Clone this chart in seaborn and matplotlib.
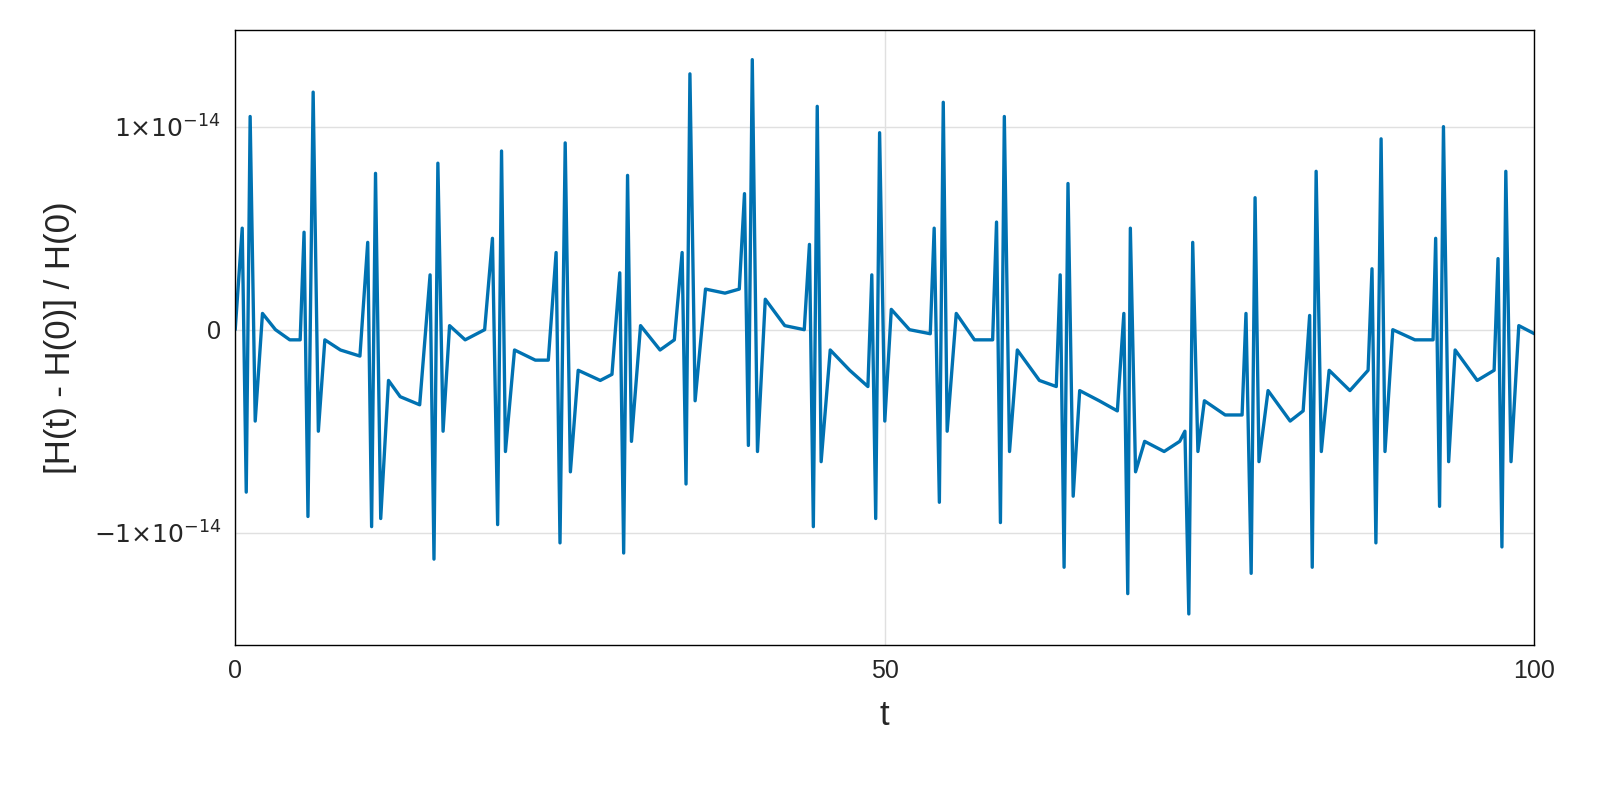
import numpy as np
import pandas as pd
import matplotlib
matplotlib.use("Agg")
import matplotlib.pyplot as plt
import seaborn as sns

# relative energy error, in units of 1e-14
t = [0, 0.54, 0.85, 1.15, 1.54, 2.1, 3.1, 4.2, 5.0,
     5.3, 5.6, 6.0, 6.4, 6.9, 8.1, 9.6,
     10.2, 10.5, 10.8, 11.2, 11.8, 12.7, 14.2,
     15.0, 15.3, 15.6, 16.0, 16.5, 17.7, 19.2,
     19.8, 20.2, 20.5, 20.8, 21.5, 23.1, 24.1,
     24.7, 25.0, 25.4, 25.8, 26.4, 28.1, 29.0,
     29.6, 29.9, 30.2, 30.5, 31.2, 32.7, 33.8,
     34.4, 34.7, 35.0, 35.4, 36.2, 37.7, 38.8,
     39.2, 39.5, 39.8, 40.2, 40.8, 42.3, 43.8,
     44.2, 44.5, 44.8, 45.1, 45.8, 47.3, 48.7,
     49.0, 49.3, 49.6, 50.0, 50.5, 51.9, 53.5,
     53.8, 54.2, 54.5, 54.8, 55.5, 56.9, 58.3,
     58.6, 58.9, 59.2, 59.6, 60.2, 61.9, 63.2,
     63.5, 63.8, 64.1, 64.5, 65.0, 66.5, 67.9,
     68.4, 68.7, 68.9, 69.3, 70.0, 71.5, 72.7,
     73.1, 73.4, 73.7, 74.1, 74.6, 76.2, 77.5,
     77.8, 78.2, 78.5, 78.8, 79.5, 81.2, 82.2,
     82.7, 82.9, 83.2, 83.6, 84.2, 85.8, 87.2,
     87.5, 87.8, 88.2, 88.5, 89.1, 90.8, 92.2,
     92.4, 92.7, 93.0, 93.4, 93.9, 95.6, 96.9,
     97.2, 97.5, 97.8, 98.2, 98.8, 100.0]
err = [0, 0.5, -0.8, 1.05, -0.45, 0.08, 0.0, -0.05, -0.05,
       0.48, -0.92, 1.17, -0.5, -0.05, -0.1, -0.13,
       0.43, -0.97, 0.77, -0.93, -0.25, -0.33, -0.37,
       0.27, -1.13, 0.82, -0.5, 0.02, -0.05, 0.0,
       0.45, -0.96, 0.88, -0.6, -0.1, -0.15, -0.15,
       0.38, -1.05, 0.92, -0.7, -0.2, -0.25, -0.22,
       0.28, -1.1, 0.76, -0.55, 0.02, -0.1, -0.05,
       0.38, -0.76, 1.26, -0.35, 0.2, 0.18, 0.2,
       0.67, -0.57, 1.33, -0.6, 0.15, 0.02, 0.0,
       0.42, -0.97, 1.1, -0.65, -0.1, -0.2, -0.28,
       0.27, -0.93, 0.97, -0.45, 0.1, 0.0, -0.02,
       0.5, -0.85, 1.12, -0.5, 0.08, -0.05, -0.05,
       0.53, -0.95, 1.05, -0.6, -0.1, -0.25, -0.28,
       0.27, -1.17, 0.72, -0.82, -0.3, -0.35, -0.4,
       0.08, -1.3, 0.5, -0.7, -0.55, -0.6, -0.55,
       -0.5, -1.4, 0.43, -0.6, -0.35, -0.42, -0.42,
       0.08, -1.2, 0.65, -0.65, -0.3, -0.45, -0.4,
       0.07, -1.17, 0.78, -0.6, -0.2, -0.3, -0.2,
       0.3, -1.05, 0.94, -0.6, 0.0, -0.05, -0.05,
       0.45, -0.87, 1.0, -0.65, -0.1, -0.25, -0.2,
       0.35, -1.07, 0.78, -0.65, 0.02, -0.02]

sns.set_theme(style="white")
plt.rcParams['font.family'] = ['Liberation Sans', 'DejaVu Sans']

df = pd.DataFrame({"t": t, "err": err})
fig = plt.figure(figsize=(16, 8), dpi=100)
ax = fig.add_axes([0.147, 0.194, 0.812, 0.769])
sns.lineplot(data=df, x="t", y="err", ax=ax, color="#0072B2", linewidth=2.4)

ax.set_xlim(0, 100)
ax.set_ylim(-1.552, 1.478)
ax.set_xticks([0, 50, 100])
ax.set_yticks([-1, 0, 1])
ax.set_yticklabels([r"$-1{\times}10^{-14}$", "0", r"$1{\times}10^{-14}$"])
ax.tick_params(labelsize=18, length=0, pad=10)
ax.grid(True, color="#e0e0e0", linewidth=1)
for s in ax.spines.values():
    s.set_color("black")
    s.set_linewidth(1)
ax.set_xlabel("t", fontsize=25, labelpad=12)
ax.set_ylabel("[H(t) - H(0)] / H(0)", fontsize=25, labelpad=12)

fig.savefig("out.png")
